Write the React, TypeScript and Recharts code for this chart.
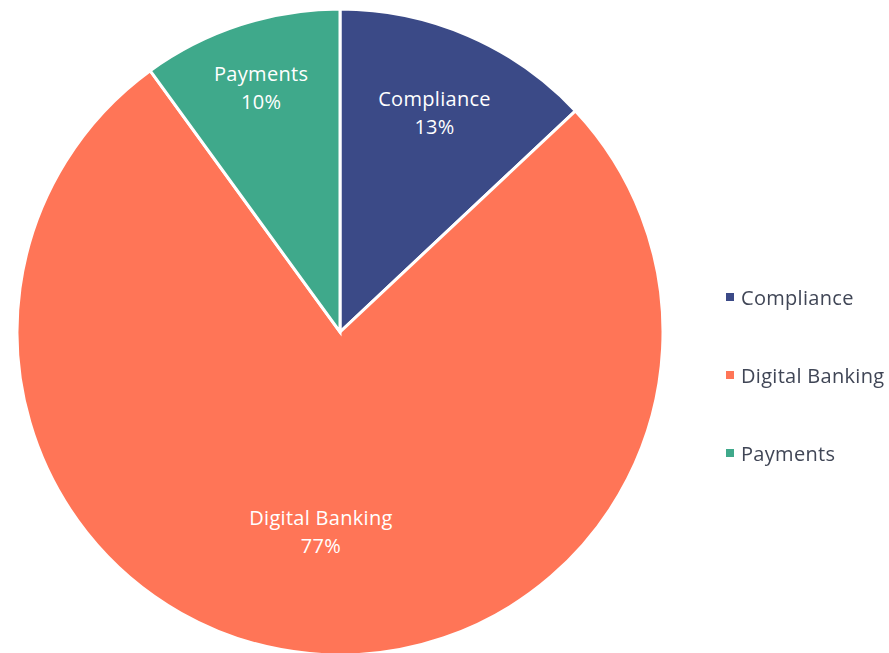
import { PieChart, Pie, Cell, Legend } from 'recharts'

const categories = ['Compliance', 'Digital Banking', 'Payments']
const shares = [13, 77, 10]
const colors = ['#3B4A87', '#FF7557', '#3FA98B']
// how far out each label sits, as a fraction of the radius
const labelRadius = [0.737, 0.626, 0.79]

const data = categories.map((name, i) => ({ name, value: shares[i] }))

const RADIAN = Math.PI / 180
const FONT = "'Open Sans', 'Noto Sans', sans-serif"

const renderLabel = (props: any) => {
  const { cx, cy, midAngle, outerRadius, index, name, value } = props
  const r = outerRadius * labelRadius[index]
  const x = cx + r * Math.cos(-midAngle * RADIAN)
  const y = cy + r * Math.sin(-midAngle * RADIAN)
  return (
    <text x={x} y={y} fill="#ffffff" textAnchor="middle" fontSize={20} letterSpacing={0.3} fontFamily={FONT}>
      <tspan x={x} dy={-8}>{name}</tspan>
      <tspan x={x} dy={28}>{value}%</tspan>
    </text>
  )
}

const renderLegend = () => (
  <div style={{ fontFamily: FONT, fontSize: 20, letterSpacing: 0.3, color: '#404656' }}>
    {categories.map((c, i) => (
      <div key={c} style={{ display: 'flex', alignItems: 'center', height: 78 }}>
        <span style={{ width: 8, height: 8, background: colors[i], marginRight: 7, display: 'inline-block' }} />
        <span>{c}</span>
      </div>
    ))}
  </div>
)

export default function App() {
  return (
    <div style={{ position: 'fixed', left: 0, top: 0, width: 889, height: 653, background: '#fff' }}>
      <PieChart width={889} height={653} margin={{ top: 0, right: 0, bottom: 0, left: 0 }}>
        <Pie
          data={data}
          dataKey="value"
          nameKey="name"
          cx={340}
          cy={332}
          outerRadius={323}
          startAngle={90}
          endAngle={-270}
          stroke="#ffffff"
          strokeWidth={3}
          label={renderLabel}
          labelLine={false}
          isAnimationActive={false}
        >
          {data.map((d, i) => (
            <Cell key={d.name} fill={colors[i]} />
          ))}
        </Pie>
        <Legend
          content={renderLegend}
          wrapperStyle={{ position: 'absolute', left: 726, top: 258, width: 170 }}
        />
      </PieChart>
    </div>
  )
}
